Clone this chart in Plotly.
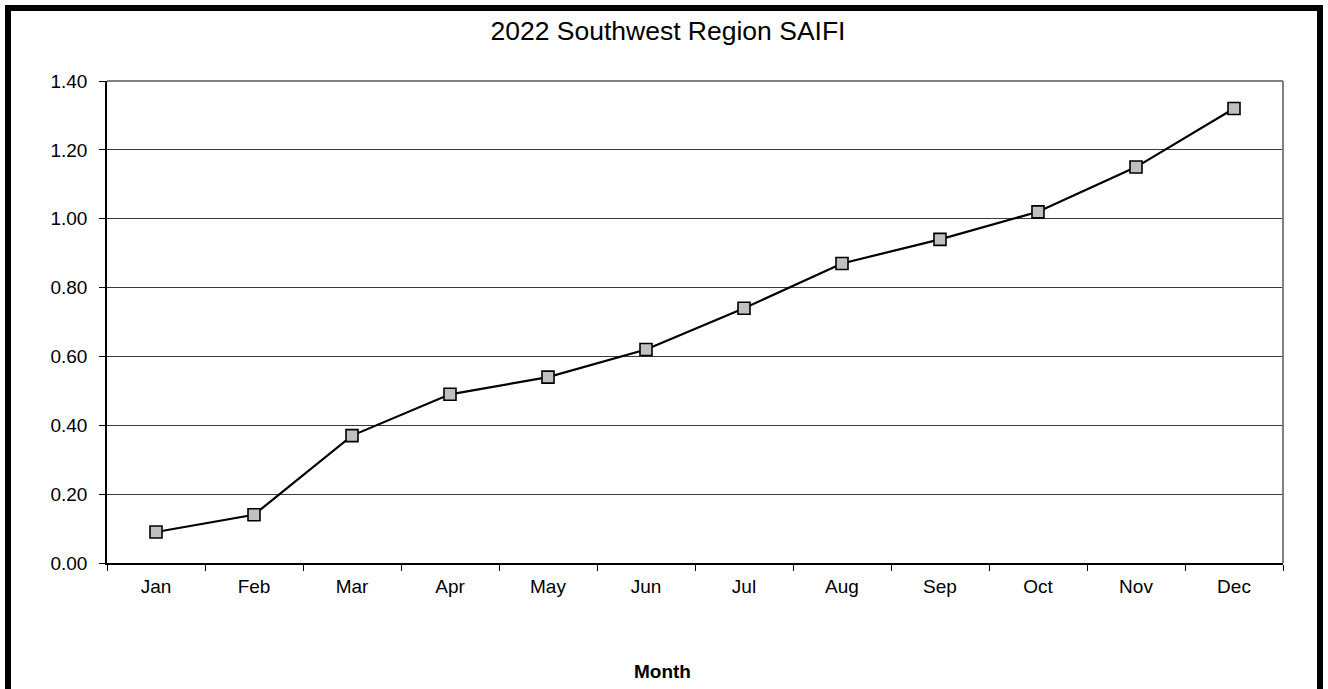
import plotly.graph_objects as go

# Monthly cumulative SAIFI for the Southwest region, 2022
months = ["Jan", "Feb", "Mar", "Apr", "May", "Jun",
          "Jul", "Aug", "Sep", "Oct", "Nov", "Dec"]
saifi = [0.09, 0.14, 0.37, 0.49, 0.54, 0.62,
         0.74, 0.87, 0.94, 1.02, 1.15, 1.32]
y_ticks = [0.0, 0.2, 0.4, 0.6, 0.8, 1.0, 1.2, 1.4]

W, H = 1328, 689
ML, MR, MT, MB = 107, 45, 81, 126
PW, PH = W - ML - MR, H - MT - MB


def px_x(x):
    return (x - ML) / PW


def px_y(y):
    return (H - MB - y) / PH


FONT = "Liberation Sans, Arial, sans-serif"

fig = go.Figure()
fig.add_trace(go.Scatter(
    x=months,
    y=saifi,
    mode="lines+markers",
    line=dict(color="black", width=2.2),
    marker=dict(symbol="square", size=12, color="#c0c0c0",
                line=dict(color="black", width=1.6)),
    showlegend=False,
    hoverinfo="x+y",
))

fig.update_layout(
    width=W,
    height=H,
    margin=dict(l=ML, r=MR, t=MT, b=MB),
    paper_bgcolor="white",
    plot_bgcolor="white",
    font=dict(family=FONT, size=19, color="black"),
    title=dict(
        text="2022 Southwest Region SAIFI",
        font=dict(family=FONT, size=26.5, color="black"),
        x=0.503, xanchor="center", xref="container",
        y=1 - 31 / H, yanchor="middle", yref="container",
    ),
    xaxis=dict(
        type="category",
        range=[-0.5, 11.5],
        tickson="boundaries",
        ticks="outside",
        ticklen=6,
        tickwidth=1.2,
        tickcolor="black",
        showline=True,
        linecolor="black",
        linewidth=2,
        showgrid=False,
        ticklabelstandoff=5,
    ),
    yaxis=dict(
        range=[0, 1.4],
        tickvals=y_ticks,
        tickformat=".2f",
        ticks="outside",
        ticklen=6,
        tickwidth=1.2,
        tickcolor="black",
        showline=True,
        linecolor="black",
        linewidth=1.5,
        showgrid=True,
        gridcolor="#3a3a3a",
        gridwidth=1,
        zeroline=False,
        ticklabelstandoff=8,
    ),
    shapes=[
        # gray top/right frame of the plotting area
        dict(type="line", xref="paper", yref="paper",
             x0=0, x1=1, y0=1, y1=1,
             line=dict(color="#808080", width=2), layer="above"),
        dict(type="line", xref="paper", yref="paper",
             x0=1, x1=1, y0=0, y1=1,
             line=dict(color="#808080", width=2), layer="above"),
        # heavy black border around the whole chart
        dict(type="rect", xref="paper", yref="paper",
             x0=px_x(8), x1=px_x(1320), y0=px_y(8), y1=px_y(720),
             line=dict(color="black", width=6), layer="above"),
    ],
    annotations=[
        dict(text="<b>Month</b>", xref="paper", yref="paper",
             x=px_x(662), y=px_y(671), xanchor="center", yanchor="middle",
             showarrow=False, font=dict(family=FONT, size=19, color="black")),
    ],
)

fig.write_html("out.html")
